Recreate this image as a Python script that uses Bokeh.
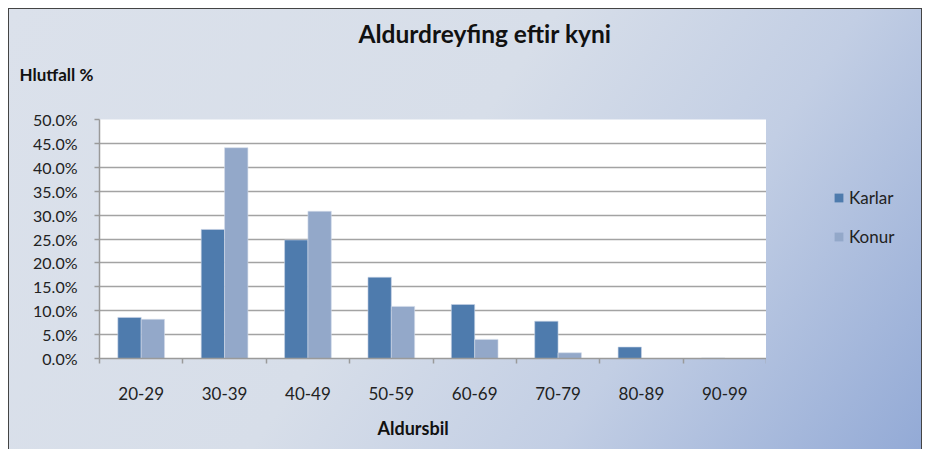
from bokeh.plotting import figure
from bokeh.models import (ColumnDataSource, FixedTicker, Range1d, Legend,
                          LegendItem, NumeralTickFormatter, Title)
from bokeh.layouts import row
from bokeh.embed import file_html
from bokeh.resources import INLINE

categories = ["20-29", "30-39", "40-49", "50-59", "60-69", "70-79", "80-89", "90-99"]
karlar = [8.6, 27.0, 24.8, 17.0, 11.3, 7.8, 2.4, 0.1]
konur = [8.2, 44.1, 30.8, 10.9, 4.0, 1.2, 0.0, 0.0]
y_ticks = [0, 5, 10, 15, 20, 25, 30, 35, 40, 45, 50]
series_names = ["Karlar", "Konur"]

FONT = "Lato"
KARL_C = "#4e7bad"
KON_C = "#93a8c9"

idx = list(range(len(categories)))
src = ColumnDataSource(dict(
    xk=[i + 0.5 - 0.14 for i in idx],
    xw=[i + 0.5 + 0.14 for i in idx],
    karlar=[v / 100 for v in karlar],
    konur=[v / 100 for v in konur],
))

p = figure(width=757, height=441, output_backend="svg", toolbar_location=None,
           x_range=Range1d(0, len(categories)), y_range=Range1d(0, 0.5),
           min_border_left=90, min_border_right=0, min_border_top=110,
           min_border_bottom=89)
p.border_fill_alpha = 0
p.background_fill_color = "white"
p.outline_line_color = None

p.vbar(x="xk", top="karlar", width=0.28, source=src, fill_color=KARL_C,
       line_color="#c8d4e6", line_width=0.6)
p.vbar(x="xw", top="konur", width=0.28, source=src, fill_color=KON_C,
       line_color="#d3dcea", line_width=0.6)

# x axis: labels at category centres, tick marks at category boundaries
xa = p.xaxis[0]
xa.ticker = FixedTicker(ticks=[i + 0.5 for i in idx], minor_ticks=list(range(len(categories) + 1)))
xa.major_label_overrides = {i + 0.5: c for i, c in zip(idx, categories)}
xa.major_tick_line_color = None
xa.major_tick_out = 0
xa.minor_tick_line_color = "#9a9a9a"
xa.minor_tick_line_width = 1.5
xa.minor_tick_out = 5
xa.minor_tick_in = 0
xa.axis_line_color = "#9a9a9a"
xa.axis_line_width = 1.5
xa.major_label_standoff = 23
xa.major_label_text_font = FONT
xa.major_label_text_font_size = "17px"
xa.major_label_text_color = "#222222"

# y axis
ya = p.yaxis[0]
ya.ticker = FixedTicker(ticks=[v / 100 for v in y_ticks], minor_ticks=[])
ya.formatter = NumeralTickFormatter(format="0.0%")
ya.major_tick_out = 5
ya.major_tick_in = 0
ya.major_tick_line_color = "#9a9a9a"
ya.major_tick_line_width = 1.5
ya.minor_tick_line_color = None
ya.axis_line_color = "#9a9a9a"
ya.axis_line_width = 1.5
ya.major_label_standoff = 17
ya.major_label_text_font = FONT
ya.major_label_text_font_size = "16px"
ya.major_label_text_color = "#222222"

p.xgrid.grid_line_color = None
p.ygrid.grid_line_color = "#a3a3a3"
p.ygrid.grid_line_width = 1.5

# main title (outermost)
p.title.text = "Aldurdreyfing eftir kyni"
p.title.align = "left"
p.title.offset = 259
p.title.standoff = 0
p.title.text_font = FONT
p.title.text_font_size = "24.5px"
p.title.text_font_style = "bold"
p.title.text_color = "#111111"

# y axis caption just above the frame
p.add_layout(Title(text="Hlutfall %\n ", align="left", offset=-80, standoff=28,
                   text_font=FONT, text_font_size="17px", text_font_style="bold",
                   text_color="#111111"), "above")

# x axis caption
p.add_layout(Title(text="Aldursbil", align="left", offset=278, standoff=24,
                   text_font=FONT, text_font_size="18px", text_font_style="bold",
                   text_color="#111111"), "below")

# legend panel (separate figure to the right of the plot area)
lg = figure(width=155, height=441, output_backend="svg", toolbar_location=None,
            x_range=Range1d(0, 1), y_range=Range1d(0, 1),
            x_axis_type=None, y_axis_type=None,
            min_border=0, min_border_left=0, min_border_right=0,
            min_border_top=0, min_border_bottom=0)
lg.grid.visible = False
lg.background_fill_alpha = 0
lg.border_fill_alpha = 0
lg.outline_line_color = None
# legend proxies: zero-height bars outside the visible range
proxy = ColumnDataSource(dict(x=[-1.0], top=[0.0]))
lk = lg.vbar(x="x", top="top", source=proxy, width=0.1, fill_color=KARL_C, line_color=None)
lw = lg.vbar(x="x", top="top", source=proxy, width=0.1, fill_color=KON_C, line_color=None)

legend = Legend(items=[LegendItem(label=series_names[0], renderers=[lk]),
                       LegendItem(label=series_names[1], renderers=[lw])],
                location=(67, 111), orientation="vertical",
                glyph_width=11, glyph_height=11, label_standoff=5,
                label_height=20, spacing=18, padding=0, margin=0,
                border_line_color=None, background_fill_alpha=0,
                label_text_font=FONT, label_text_font_size="17px",
                label_text_color="#222222")
lg.add_layout(legend)

layout = row(p, lg)
layout.styles = {
    "background": "linear-gradient(125deg, #dbe1eb 0%, #d7dee9 45%, #c2cee4 70%, #93aad6 100%)",
    "border": "1px solid #444444",
    "margin-left": "8px",
    "margin-top": "8px",
}

open("out.html", "w").write(file_html(layout, INLINE))
